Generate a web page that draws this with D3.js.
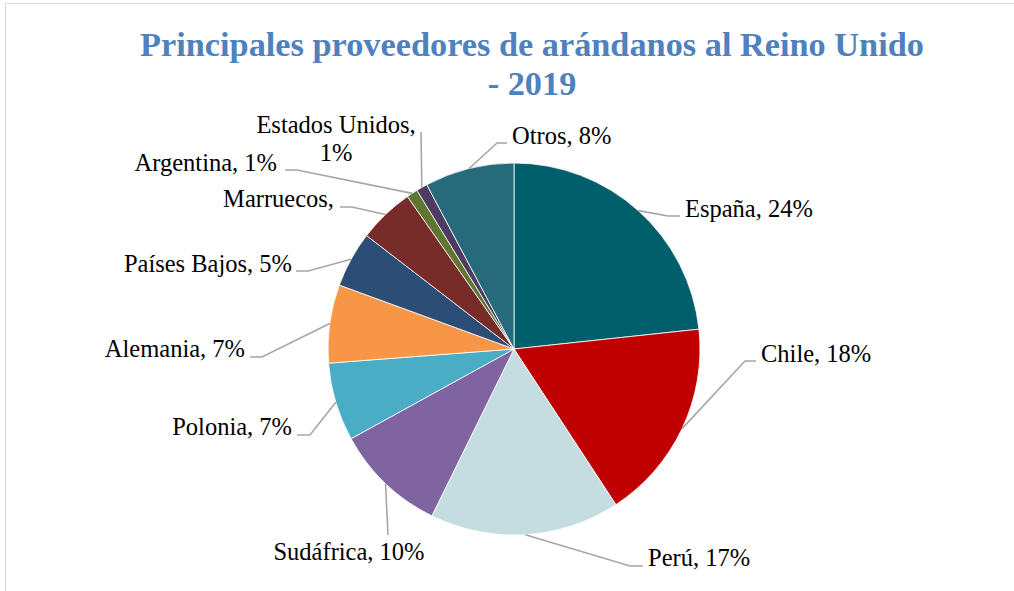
<!DOCTYPE html>
<html>
<head>
<meta charset="utf-8">
<script src="https://cdn.jsdelivr.net/npm/d3@7"></script>
<style>
  html, body { margin: 0; padding: 0; background: #fff; }
  #chart { width: 1014px; height: 591px; }
  .slice { stroke: #ffffff; stroke-width: 0.8; }
  .leader { fill: none; stroke: #a6a6a6; stroke-width: 1.6; }
  .label { font-family: "Liberation Serif", "Times New Roman", serif; font-size: 24.5px; fill: #000; }
  .title { font-family: "Liberation Serif", "Times New Roman", serif; font-size: 34.3px; font-weight: bold; fill: #4f81bd; }
</style>
</head>
<body>
<div id="chart"></div>
<script>
// data (label percentages as printed)
var countries = ['España', 'Chile', 'Perú', 'Sudáfrica', 'Polonia', 'Alemania',
  'Países Bajos', 'Marruecos', 'Argentina', 'Estados Unidos', 'Otros'];
var shares = [24, 18, 17, 10, 7, 7, 5, 5, 1, 1, 8];
var colors = ['#005f6b', '#c00000', '#c5dde0', '#8064a2', '#4bacc6', '#f79646',
  '#2c4d75', '#772c2a', '#5f7530', '#4d3b62', '#276a7c'];
var titleLines = ['Principales proveedores de arándanos al Reino Unido', '- 2019'];

// where each label sits (Excel "best fit" placement)
var labelLayout = {
  'España':         { x: 685, y: 217, anchor: 'start', elbow: [668, 216], end: [680, 216] },
  'Chile':          { x: 761, y: 362, anchor: 'start', elbow: [745, 361], end: [756, 361] },
  'Perú':           { x: 648, y: 566, anchor: 'start', elbow: [630, 566], end: [643, 566] },
  'Sudáfrica':      { x: 349, y: 560, anchor: 'middle', elbow: null, end: [388, 535] },
  'Polonia':        { x: 292, y: 435, anchor: 'end', elbow: [310, 435], end: [297, 435] },
  'Alemania':       { x: 245, y: 357, anchor: 'end', elbow: [262, 357], end: [250, 357] },
  'Países Bajos':   { x: 292, y: 272, anchor: 'end', elbow: [308, 271], end: [296, 271] },
  'Marruecos':      { x: 334, y: 207, anchor: 'end', elbow: [352, 207], end: [340, 207], text: ['Marruecos,'] },
  'Argentina':      { x: 277, y: 171, anchor: 'end', elbow: [297, 170], end: [285, 170] },
  'Estados Unidos': { x: 336, y: 133, anchor: 'middle', elbow: null, end: [421, 132], text: ['Estados Unidos,', '1%'] },
  'Otros':          { x: 512, y: 144, anchor: 'start', elbow: [497, 143], end: [507, 143] }
};

var width = 1014, height = 591;
var cx = 514, cy = 349, radius = 186;

var svg = d3.select('#chart').append('svg')
  .attr('width', width)
  .attr('height', height);

// chart area frame
svg.append('rect')
  .attr('x', 5.5).attr('y', 3.5)
  .attr('width', 1020).attr('height', 600)
  .attr('fill', '#fff')
  .attr('stroke', '#d9d9d9')
  .attr('stroke-width', 1);

// title
svg.append('text')
  .attr('class', 'title')
  .attr('text-anchor', 'middle')
  .selectAll('tspan')
  .data(titleLines)
  .enter()
  .append('tspan')
  .attr('x', 532)
  .attr('y', function (d, i) { return 56 + i * 39; })
  .text(function (d) { return d; });

var rows = countries.map(function (c, i) { return { name: c, value: shares[i], color: colors[i] }; });

var pie = d3.pie()
  .sort(null)
  .value(function (d) { return d.value; });

var arc = d3.arc().innerRadius(0).outerRadius(radius);

var arcs = pie(rows);

var g = svg.append('g').attr('transform', 'translate(' + cx + ',' + cy + ')');

g.selectAll('.slice')
  .data(arcs)
  .enter()
  .append('path')
  .attr('class', 'slice')
  .attr('fill', function (d) { return d.data.color; })
  .attr('d', arc);

// leader lines: from the rim at the slice's mid angle to the label
function rimPoint(d) {
  var a = (d.startAngle + d.endAngle) / 2;
  return [cx + radius * Math.sin(a), cy - radius * Math.cos(a)];
}

svg.selectAll('.leader')
  .data(arcs)
  .enter()
  .append('path')
  .attr('class', 'leader')
  .attr('d', function (d) {
    var lay = labelLayout[d.data.name];
    var p = rimPoint(d);
    var pts = [p];
    if (lay.elbow) pts.push(lay.elbow);
    pts.push(lay.end);
    return d3.line()(pts);
  });

var labels = svg.selectAll('.label')
  .data(arcs)
  .enter()
  .append('text')
  .attr('class', 'label')
  .attr('text-anchor', function (d) { return labelLayout[d.data.name].anchor; });

labels.each(function (d) {
  var lay = labelLayout[d.data.name];
  var lines = lay.text || [d.data.name + ', ' + d.data.value + '%'];
  d3.select(this).selectAll('tspan')
    .data(lines)
    .enter()
    .append('tspan')
    .attr('x', lay.x)
    .attr('y', function (t, i) { return lay.y + i * 28; })
    .text(function (t) { return t; });
});
</script>
</body>
</html>
